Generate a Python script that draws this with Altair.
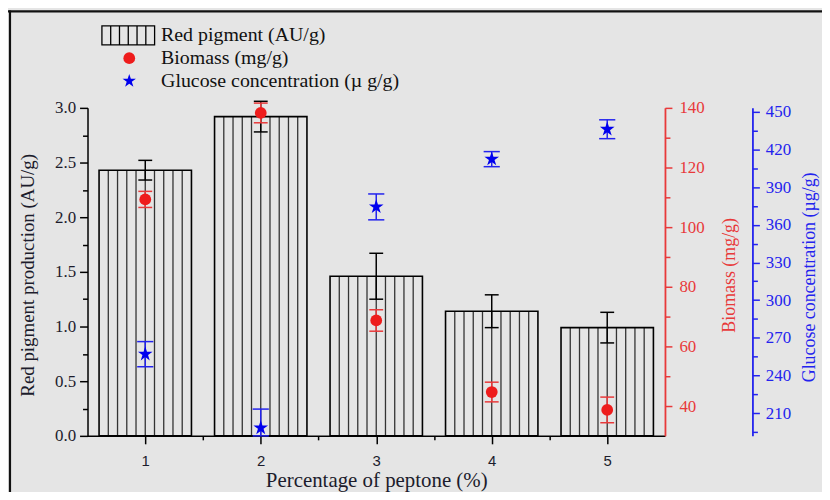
import altair as alt
import pandas as pd

# ---------------- data ----------------
peptone = [1, 2, 3, 4, 5]
pigment = [2.43, 2.92, 1.46, 1.14, 0.99]
pigment_err = [0.09, 0.14, 0.21, 0.15, 0.14]
biomass = [109.3, 138.3, 68.7, 44.7, 38.7]
biomass_err = [2.7, 3.3, 3.6, 3.3, 4.3]
glucose = [257.0, 198.3, 374.2, 412.2, 436.0]
glucose_err = [10.0, 15.0, 10.3, 6.0, 7.5]

x_ticks = [1, 1.5, 2, 2.5, 3, 3.5, 4, 4.5, 5]
pigment_ticks = [0, 0.25, 0.5, 0.75, 1.0, 1.25, 1.5, 1.75, 2.0, 2.25, 2.5, 2.75, 3.0]
biomass_ticks = [40, 50, 60, 70, 80, 90, 100, 110, 120, 130, 140]
glucose_ticks = [195, 210, 225, 240, 255, 270, 285, 300, 315, 330, 345, 360, 375,
                 390, 405, 420, 435, 450]

legend_labels = ["Red pigment (AU/g)", "Biomass (mg/g)", "Glucose concentration (\u00b5 g/g)"]
x_title = "Percentage of peptone (%)"
left_title = "Red pigment production (AU/g)"
red_title = "Biomass (mg/g)"
blue_title = "Glucose concentration (\u00b5g/g)"

# ---------------- styling constants ----------------
BAR_HALF = 0.4
N_HATCH = 10
RED = "#ee1c1c"
RED_AX = "#e8393a"
BLUE = "#0000ee"
BLUE_AX = "#2323ee"
TXT = "#1c1c2c"
SERIF = "Liberation Serif"

STAR = ("M0,-1L0.2245,-0.309L0.9511,-0.309L0.3633,0.118L0.5878,0.809L0,0.382"
        "L-0.5878,0.809L-0.3633,0.118L-0.9511,-0.309L-0.2245,-0.309Z")
HATCH_BOX = ("M-1,-0.36H1V0.36H-1Z M-0.6667,-0.36V0.36 M-0.3333,-0.36V0.36 "
             "M0,-0.36V0.36 M0.3333,-0.36V0.36 M0.6667,-0.36V0.36")

df = pd.DataFrame({
    "peptone": peptone,
    "pigment": pigment, "perr": pigment_err,
    "biomass": biomass, "berr": biomass_err,
    "glucose": glucose, "gerr": glucose_err,
})

hatch_df = pd.DataFrame([
    {"xh": p - BAR_HALF + k * 2 * BAR_HALF / N_HATCH, "top": v, "zero": 0}
    for p, v in zip(peptone, pigment) for k in range(1, N_HATCH)
])

# ---------------- scales & axes ----------------
x_scale = alt.Scale(domain=[0.5, 5.5], nice=False, zero=False)
x_axis = alt.Axis(
    values=x_ticks,
    labelExpr="datum.value % 1 === 0 ? format(datum.value, 'd') : ''",
    tickSize={"condition": {"test": "datum.value % 1 === 0", "value": 8}, "value": 4},
    tickColor="black", tickWidth=1.5, domainColor="black", domainWidth=1.5,
    labelFont="Liberation Sans", labelFontSize=15, labelColor=TXT, labelPadding=10,
    labelOverlap=False, grid=False,
    title=x_title, titleFont=SERIF, titleFontSize=21, titleFontWeight="normal",
    titleColor=TXT, titleY=45, titleBaseline="middle",
)

left_scale = alt.Scale(domain=[0, 3.0], nice=False, zero=True)
left_axis = alt.Axis(
    orient="left", values=pigment_ticks,
    labelExpr="(round(datum.value * 100) % 50 === 0) ? format(datum.value, '.1f') : ''",
    tickSize={"condition": {"test": "round(datum.value * 100) % 50 === 0", "value": 8}, "value": 5},
    tickColor="black", tickWidth=1.5, domainColor="black", domainWidth=1.5,
    labelFont=SERIF, labelFontSize=17, labelColor=TXT, labelPadding=4,
    labelOverlap=False, grid=False,
    title=left_title, titleFont=SERIF, titleFontSize=19, titleFontWeight="normal",
    titleColor=TXT, titleAngle=270, titleX=-60, titleY=168,
    titleAlign="center", titleBaseline="middle",
)

red_scale = alt.Scale(domain=[30, 140], nice=False, zero=False)
red_axis = alt.Axis(
    orient="right", values=biomass_ticks,
    labelExpr="datum.value % 20 === 0 ? format(datum.value, 'd') : ''",
    tickSize={"condition": {"test": "datum.value % 20 === 0", "value": 7}, "value": 5},
    tickColor=RED_AX, tickWidth=1.5, domainColor=RED_AX, domainWidth=1.8,
    labelFont=SERIF, labelFontSize=17, labelColor=RED_AX, labelPadding=7,
    labelOverlap=False, grid=False,
    title=red_title, titleFont=SERIF, titleFontSize=18, titleFontWeight="normal",
    titleColor=RED_AX, titleAngle=270, titleX=65, titleY=168,
    titleAlign="center", titleBaseline="middle",
)

blue_scale = alt.Scale(domain=[192, 453], nice=False, zero=False, clamp=True)
blue_axis = alt.Axis(
    orient="right", offset=88, values=glucose_ticks,
    labelExpr="(datum.value - 210) % 30 === 0 ? format(datum.value, 'd') : ''",
    tickSize={"condition": {"test": "(datum.value - 210) % 30 === 0", "value": 7}, "value": 5},
    tickColor=BLUE_AX, tickWidth=1.5, domainColor=BLUE_AX, domainWidth=1.8,
    labelFont=SERIF, labelFontSize=17, labelColor=BLUE_AX, labelPadding=6,
    labelOverlap=False, grid=False,
    title=blue_title, titleFont=SERIF, titleFontSize=18, titleFontWeight="normal",
    titleColor=BLUE_AX, titleAngle=270, titleX=57, titleY=170,
    titleAlign="center", titleBaseline="middle",
)


def X(field):
    return alt.X(field, type="quantitative", scale=x_scale, axis=x_axis)


def YL(field):
    return alt.Y(field, type="quantitative", scale=left_scale, axis=left_axis)


def YR(field):
    return alt.Y(field, type="quantitative", scale=red_scale, axis=red_axis)


def YB(field):
    return alt.Y(field, type="quantitative", scale=blue_scale, axis=blue_axis)


base = alt.Chart(df).transform_calculate(
    x_lo=f"datum.peptone - {BAR_HALF}",
    x_hi=f"datum.peptone + {BAR_HALF}",
    c_lo="datum.peptone - 0.06",
    c_hi="datum.peptone + 0.06",
    g_lo="datum.peptone - 0.07",
    g_hi="datum.peptone + 0.07",
    zero="0",
    p_lo="datum.pigment - datum.perr",
    p_hi="datum.pigment + datum.perr",
    b_lo="datum.biomass - datum.berr",
    b_hi="datum.biomass + datum.berr",
    gl_lo="datum.glucose - datum.gerr",
    gl_hi="datum.glucose + datum.gerr",
)

# ---------------- bars (left axis) ----------------
hatch = alt.Chart(hatch_df).mark_rule(color="#333333", strokeWidth=1.3).encode(
    x=X("xh"), y=YL("top"), y2=alt.Y2("zero:Q")
)
bars = base.mark_rect(filled=False, color="black", strokeWidth=1.6).encode(
    x=X("x_lo"), x2=alt.X2("x_hi:Q"), y=YL("pigment"), y2=alt.Y2("zero:Q")
)
bar_err = base.mark_rule(color="black", strokeWidth=1.5).encode(
    x=X("peptone"), y=YL("p_lo"), y2=alt.Y2("p_hi:Q")
)
bar_caps = base.transform_fold(["p_lo", "p_hi"], as_=["which", "pv"]).mark_rule(
    color="black", strokeWidth=1.5
).encode(x=X("c_lo"), x2=alt.X2("c_hi:Q"), y=YL("pv"))
bar_group = alt.layer(hatch, bars, bar_err, bar_caps)

# ---------------- biomass (red axis) ----------------
red_err = base.mark_rule(color=RED_AX, strokeWidth=1.5).encode(
    x=X("peptone"), y=YR("b_lo"), y2=alt.Y2("b_hi:Q")
)
red_caps = base.transform_fold(["b_lo", "b_hi"], as_=["which", "bv"]).mark_rule(
    color=RED_AX, strokeWidth=1.5
).encode(x=X("c_lo"), x2=alt.X2("c_hi:Q"), y=YR("bv"))
red_pts = base.mark_point(shape="circle", filled=True, size=140, color=RED, opacity=1).encode(
    x=X("peptone"), y=YR("biomass")
)
red_group = alt.layer(red_err, red_caps, red_pts)

# ---------------- glucose (blue axis) ----------------
blue_err = base.mark_rule(color=BLUE_AX, strokeWidth=1.5).encode(
    x=X("peptone"), y=YB("gl_lo"), y2=alt.Y2("gl_hi:Q")
)
blue_caps = base.transform_fold(["gl_lo", "gl_hi"], as_=["which", "gv"]).mark_rule(
    color=BLUE_AX, strokeWidth=1.5
).encode(x=X("g_lo"), x2=alt.X2("g_hi:Q"), y=YB("gv"))
blue_pts = base.mark_point(shape=STAR, filled=True, size=240, color=BLUE, opacity=1).encode(
    x=X("peptone"), y=YB("glucose")
)
blue_group = alt.layer(blue_err, blue_caps, blue_pts)

# ---------------- legend (drawn manually) ----------------
one = pd.DataFrame({"k": [0]})
leg_box = alt.Chart(one).mark_point(
    shape=HATCH_BOX, size=2809, filled=False, color="black", strokeWidth=1.3, opacity=1
).encode(x=alt.value(41), y=alt.value(-73))
leg_circle = alt.Chart(one).mark_point(
    shape="circle", filled=True, size=140, color=RED, opacity=1
).encode(x=alt.value(42), y=alt.value(-50))
leg_star = alt.Chart(one).mark_point(
    shape=STAR, filled=True, size=200, color=BLUE, opacity=1
).encode(x=alt.value(42), y=alt.value(-27))
leg_texts = []
for lab, yy in zip(legend_labels, [-73, -50, -27]):
    leg_texts.append(
        alt.Chart(pd.DataFrame({"label": [lab]})).mark_text(
            align="left", baseline="middle", font=SERIF, fontSize=20, color="#111111"
        ).encode(text="label:N", x=alt.value(74), y=alt.value(yy))
    )

# ---------------- figure frame (top & left edges) ----------------
frame_top = alt.Chart(one).mark_rule(color="#111111", strokeWidth=2.2).encode(
    x=alt.value(-80), x2=alt.value(740), y=alt.value(-97)
)
frame_left = alt.Chart(one).mark_rule(color="#111111", strokeWidth=2.2).encode(
    x=alt.value(-78), y=alt.value(-98), y2=alt.value(390)
)

chart = alt.layer(
    frame_top, frame_left,
    bar_group, red_group, blue_group,
    leg_box, leg_circle, leg_star, *leg_texts,
).resolve_scale(y="independent").properties(
    width=581, height=330,
    padding={"left": 80, "top": 99, "right": 158, "bottom": 55},
    autosize=alt.AutoSizeParams(type="none"),
    background="#e5e5e5",
).configure_view(stroke=None)

chart.save("out.html", embed_options={"renderer": "svg", "actions": False})
